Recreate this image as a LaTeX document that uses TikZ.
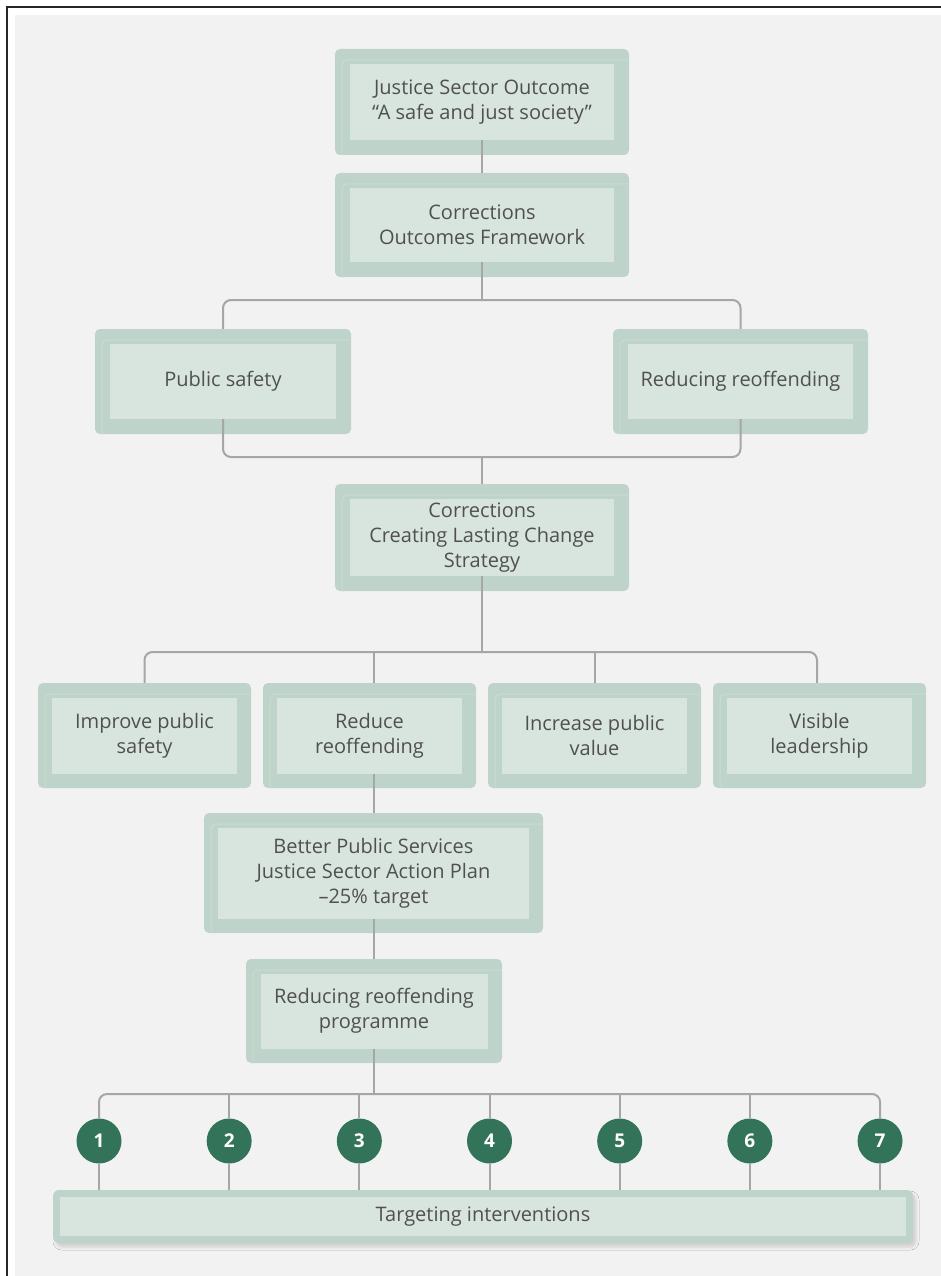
\documentclass[tikz,border=0pt]{standalone}
\usepackage{fontspec}
\setmainfont{Open Sans}
\usetikzlibrary{shadows.blur}

\definecolor{pagebg}{HTML}{F2F2F2}
\definecolor{boxrim}{HTML}{BED3C9}
\definecolor{boxface}{HTML}{D8E5DF}
\definecolor{boxbevel}{HTML}{CADCD3}
\definecolor{boxtext}{HTML}{505050}
\definecolor{linkgrey}{HTML}{A6A6A6}
\definecolor{numgreen}{HTML}{33735A}

\tikzset{
  outerbox/.style={rounded corners=5pt, fill=boxrim, inner sep=0pt,
    path picture={\draw[boxbevel, line width=1pt]
      ([xshift=7pt]path picture bounding box.south west) |- ([yshift=-11pt]path picture bounding box.north east);}},
  innerbox/.style={fill=boxface, inner sep=0pt, align=center, text=boxtext,
    font=\fontsize{20}{25}\selectfont},
  link/.style={draw=linkgrey, line width=2pt, rounded corners=8pt},
  numdot/.style={circle, fill=numgreen, minimum size=45pt, inner sep=0pt,
    text=white, font=\fontsize{19}{19}\selectfont\bfseries}
}

\begin{document}
\begin{tikzpicture}[x=1pt,y=-1pt]
\useasboundingbox (0,0) rectangle (941,1276);
\fill[pagebg] (15,15) rectangle (941,1276);
\draw[black!85, line width=1.8pt] (941,7) -- (7,7) -- (7,1276);

% top of the chain
\node[outerbox, minimum width=294pt, minimum height=106pt] (just) at (482,102) {};
\node[innerbox, minimum width=264pt, minimum height=76pt] (just-in) at (just) {Justice Sector Outcome\\“A safe and just society”};
\node[outerbox, minimum width=294pt, minimum height=104pt] (frame) at (482,225) {};
\node[innerbox, minimum width=264pt, minimum height=74pt] (frame-in) at (frame) {Corrections\\Outcomes Framework};

\node[outerbox, minimum width=256pt, minimum height=105pt] (psafe) at (223,381.5) {};
\node[innerbox, minimum width=226pt, minimum height=75pt] (psafe-in) at (psafe) {Public safety};
\node[outerbox, minimum width=255pt, minimum height=105pt] (reoff) at (740.5,381.5) {};
\node[innerbox, minimum width=225pt, minimum height=75pt] (reoff-in) at (reoff) {Reducing reoffending};

\node[outerbox, minimum width=294pt, minimum height=107pt] (clc) at (482,537.5) {};
\node[innerbox, minimum width=264pt, minimum height=77pt] (clc-in) at (clc) {Corrections\\Creating Lasting Change\\Strategy};

% four priorities
\node[outerbox, minimum width=213pt, minimum height=105pt] (imp) at (144.5,735.5) {};
\node[innerbox, minimum width=185pt, minimum height=76pt] (imp-in) at (imp) {Improve public\\safety};
\node[outerbox, minimum width=213pt, minimum height=105pt] (red) at (369.5,735.5) {};
\node[innerbox, minimum width=185pt, minimum height=76pt] (red-in) at (red) {Reduce\\reoffending};
\node[outerbox, minimum width=213pt, minimum height=105pt] (inc) at (594.5,735.5) {};
\node[innerbox, minimum width=185pt, minimum height=76pt] (inc-in) at (inc) {Increase public\\value};
\node[outerbox, minimum width=213pt, minimum height=105pt] (vis) at (819.5,735.5) {};
\node[innerbox, minimum width=185pt, minimum height=76pt] (vis-in) at (vis) {Visible\\leadership};

\node[outerbox, minimum width=339pt, minimum height=120pt] (bps) at (373.5,873) {};
\node[innerbox, minimum width=311pt, minimum height=91pt] (bps-in) at (bps) {Better Public Services\\Justice Sector Action Plan\\–25\% target};
\node[outerbox, minimum width=256pt, minimum height=104pt] (prog) at (374,1011) {};
\node[innerbox, minimum width=227pt, minimum height=75pt] (prog-in) at (prog) {Reducing reoffending\\programme};

\node[rounded corners=6pt, fill=boxrim, minimum width=860pt, minimum height=53pt,
  blur shadow={shadow xshift=3pt, shadow yshift=-4pt, shadow blur radius=3pt, shadow opacity=14}] (target) at (483,1216.5) {};
\node[innerbox, minimum width=846pt, minimum height=39pt] (target-in) at (target) {Targeting interventions};

\foreach \i in {1,...,7}
  \node[numdot] (n\i) at ({99+130.17*(\i-1)},1141) {\i};

% connectors
\coordinate (bar1) at (482,300);
\coordinate (bar2) at (482,457);
\coordinate (bar3) at (482,652);
\coordinate (bar4) at (374,1094);

\draw[link] (just-in.south) -- (frame.north);
\draw[link] (frame-in.south) -- (bar1);
\draw[link] (psafe.north) -- (psafe.north |- bar1) -- (reoff.north |- bar1) -- (reoff.north);
\draw[link] (psafe-in.south) -- (psafe-in.south |- bar2) -- (reoff-in.south |- bar2) -- (reoff-in.south);
\draw[link] (bar2) -- (clc.north);
\draw[link] (clc-in.south) -- (bar3);
\draw[link] (imp.north) -- (imp.north |- bar3) -- ([xshift=-2.5pt]vis.north |- bar3) -- ([xshift=-2.5pt]vis.north);
\draw[link] (red.north -| bps.north) -- (bps.north |- bar3);
\draw[link] (inc.north) -- (inc.north |- bar3);
\draw[link] (red-in.south -| bps.north) -- (bps.north);
\draw[link] (bps-in.south -| prog.north) -- (prog.north);
\draw[link] (prog-in.south) -- (bar4);
\draw[link] (n1.north) -- (n1.north |- bar4) -- (n7.north |- bar4) -- (n7.north);
\foreach \i in {2,...,6}
  \draw[link] (n\i.north) -- (n\i.north |- bar4);
\foreach \i in {1,...,7}
  \draw[link] (n\i.south) -- (n\i.south |- target.north);
\end{tikzpicture}
\end{document}
